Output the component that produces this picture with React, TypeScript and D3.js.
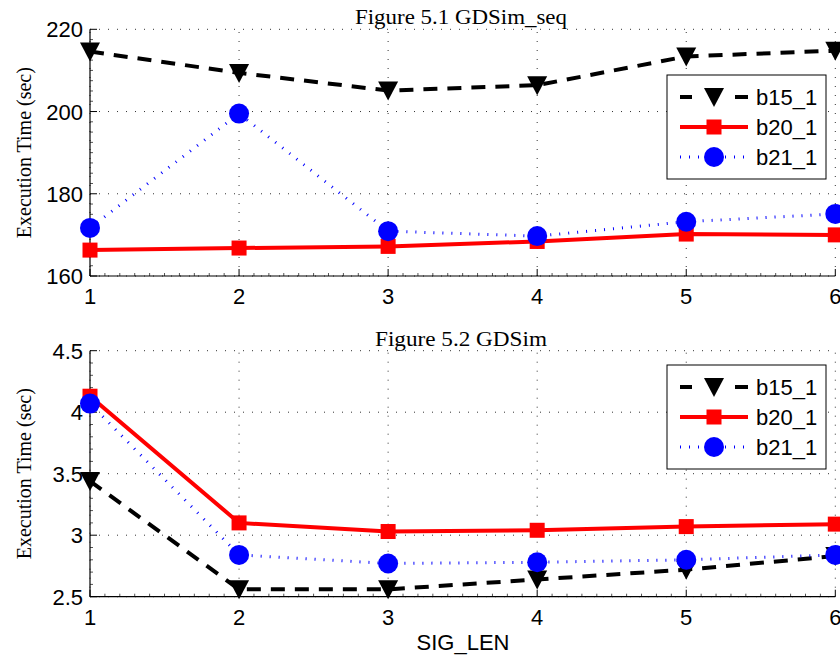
import React from "react";
import * as d3 from "d3";

const sigLen = [1, 2, 3, 4, 5, 6];
const seriesNames = ["b15_1", "b20_1", "b21_1"];
const seqB15 = [214.6, 209.4, 205.1, 206.4, 213.4, 214.8];
const seqB20 = [166.3, 166.8, 167.2, 168.4, 170.2, 170.0];
const seqB21 = [171.7, 199.5, 170.9, 169.7, 173.2, 175.1];
const simB15 = [3.44, 2.56, 2.56, 2.64, 2.72, 2.83];
const simB20 = [4.13, 3.10, 3.03, 3.04, 3.07, 3.09];
const simB21 = [4.07, 2.84, 2.77, 2.78, 2.80, 2.84];
const seqTicks = [160, 180, 200, 220];
const simTicks = [2.5, 3, 3.5, 4, 4.5];
const simTickLabels = ["2.5", "3", "3.5", "4", "4.5"];

const styles = [
  { color: "#000", width: 4, dash: "14 10", marker: "tri" },
  { color: "#ff0000", width: 4, dash: "", marker: "sq" },
  { color: "#0000ff", width: 3, dash: "1 8", marker: "circ" },
];

const X0 = 90, X1 = 835.3;
const SANS = "Liberation Sans, Arial, sans-serif";
const SERIF = "Liberation Serif, Times New Roman, serif";

function Marker({ kind, x, y, color }: any) {
  if (kind === "tri") {
    const p = `${x - 10},${y - 9} ${x + 10},${y - 9} ${x},${y + 10}`;
    return <polygon points={p} fill={color} />;
  }
  if (kind === "sq") return <rect x={x - 7.5} y={y - 7.5} width={15} height={15} fill={color} />;
  return <circle cx={x} cy={y} r={10} fill={color} />;
}

function Panel({ top, bottom, domain, ticks, tickLabels, minorStep, title, titleLen, data, legendTop }: any) {
  const x = d3.scaleLinear().domain([1, 6]).range([X0, X1]);
  const y = d3.scaleLinear().domain(domain).range([bottom, top]);
  const line = d3.line<number>().x((_, i) => x(sigLen[i])).y((d) => y(d));
  const xMinor = d3.range(10, 61).map((v) => v / 10).filter((v) => Math.abs(v - Math.round(v)) > 1e-6);
  const nMinor = Math.round((domain[1] - domain[0]) / minorStep);
  const yMinor = d3.range(0, nMinor + 1).map((i) => domain[0] + i * minorStep).filter((v) => !ticks.some((t: number) => Math.abs(t - v) < 1e-6));
  const grid = { stroke: "#333", strokeWidth: 1, strokeDasharray: "1 8" };
  return (
    <g>
      {sigLen.map((v) => (
        <line key={"gx" + v} x1={x(v)} x2={x(v)} y1={bottom} y2={top} {...grid} />
      ))}
      {ticks.map((v: number) => (
        <line key={"gy" + v} x1={X0} x2={X1} y1={y(v)} y2={y(v)} {...grid} />
      ))}
      {xMinor.map((v) => (
        <line key={"mx" + v} x1={x(v)} x2={x(v)} y1={bottom} y2={bottom - 3} stroke="#555" strokeWidth={1} />
      ))}
      {yMinor.map((v: number) => (
        <line key={"my" + v} x1={X0} x2={X0 + 3} y1={y(v)} y2={y(v)} stroke="#555" strokeWidth={1} />
      ))}
      {sigLen.map((v) => (
        <line key={"tx" + v} x1={x(v)} x2={x(v)} y1={bottom} y2={bottom - 7} stroke="#000" strokeWidth={1} />
      ))}
      {ticks.map((v: number) => (
        <line key={"ty" + v} x1={X0} x2={X0 + 7} y1={y(v)} y2={y(v)} stroke="#000" strokeWidth={1} />
      ))}
      <line x1={X0} x2={X1} y1={bottom} y2={bottom} stroke="#000" strokeWidth={1.2} />
      <line x1={X0} x2={X0} y1={bottom} y2={top} stroke="#000" strokeWidth={1.2} />
      {sigLen.map((v) => (
        <text key={"lx" + v} x={x(v)} y={bottom + 28} textAnchor="middle" fontFamily={SANS} fontSize={22}>{v}</text>
      ))}
      {ticks.map((v: number, i: number) => (
        <text key={"ly" + v} x={X0 - 7} y={y(v) + 8} textAnchor="end" fontFamily={SANS} fontSize={22}>{tickLabels[i]}</text>
      ))}
      <text x={461} y={top - 5} textAnchor="middle" fontFamily={SERIF} fontSize={21} textLength={titleLen} lengthAdjust="spacingAndGlyphs">{title}</text>
      <text transform={`translate(31,${(top + bottom) / 2}) rotate(-90)`} textAnchor="middle" fontFamily={SERIF} fontSize={20}>Execution Time (sec)</text>
      {data.map((vals: number[], si: number) => (
        <g key={"s" + si}>
          <path d={line(vals) || ""} fill="none" stroke={styles[si].color} strokeWidth={styles[si].width} strokeDasharray={styles[si].dash || undefined} />
          {vals.map((v, i) => (
            <Marker key={i} kind={styles[si].marker} x={x(sigLen[i])} y={y(v)} color={styles[si].color} />
          ))}
        </g>
      ))}
      <rect x={667} y={legendTop} width={159} height={104} fill="#fff" stroke="#000" strokeWidth={1} />
      {seriesNames.map((n, i) => {
        const ly = legendTop + 22 + i * 30;
        return (
          <g key={"lg" + n}>
            <line x1={680} x2={748} y1={ly} y2={ly} stroke={styles[i].color} strokeWidth={styles[i].width} strokeDasharray={i === 0 ? "12 43" : styles[i].dash || undefined} />
            {i === 0 && <line x1={736} x2={748} y1={ly} y2={ly} stroke="#000" strokeWidth={4} />}
            <Marker kind={styles[i].marker} x={714} y={ly} color={styles[i].color} />
            <text x={756} y={ly + 8} fontFamily={SANS} fontSize={22}>{n}</text>
          </g>
        );
      })}
    </g>
  );
}

export default function App() {
  return (
    <div style={{ position: "absolute", left: 0, top: 0 }}>
      <svg width={840} height={656} style={{ display: "block", background: "#fff" }}>
        <Panel top={29.3} bottom={276} domain={[160, 220]} ticks={seqTicks} tickLabels={seqTicks.map(String)} minorStep={2.5}
          title="Figure 5.1 GDSim_seq" titleLen={212} data={[seqB15, seqB20, seqB21]} legendTop={75} />
        <Panel top={350.7} bottom={596.7} domain={[2.5, 4.5]} ticks={simTicks} tickLabels={simTickLabels} minorStep={0.1}
          title="Figure 5.2 GDSim" titleLen={172} data={[simB15, simB20, simB21]} legendTop={365} />
        <text x={463} y={650} textAnchor="middle" fontFamily={SANS} fontSize={22}>SIG_LEN</text>
      </svg>
    </div>
  );
}
